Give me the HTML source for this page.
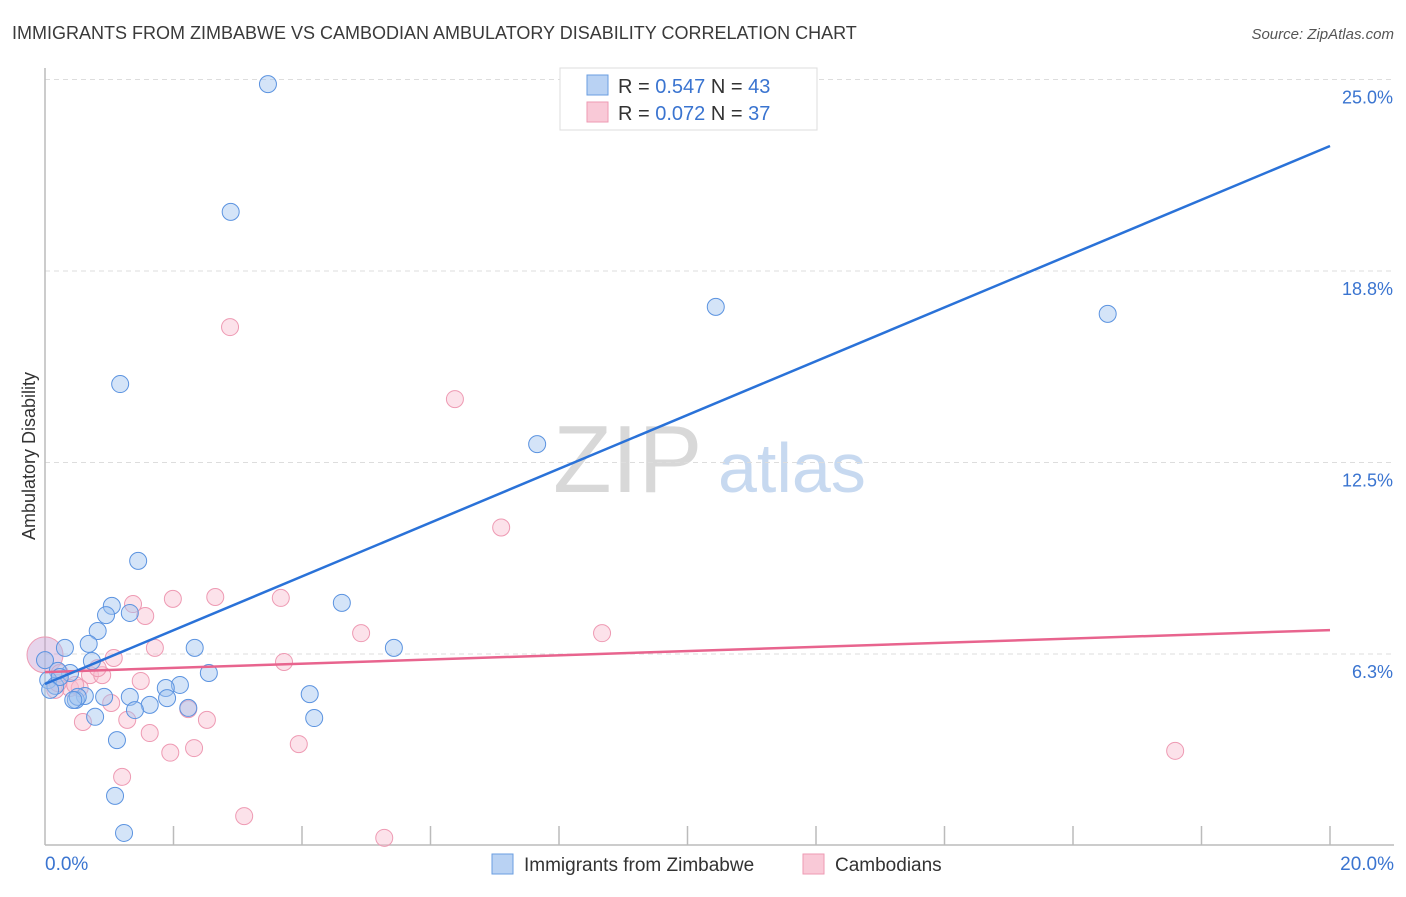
<!DOCTYPE html>
<html><head><meta charset="utf-8">
<style>
body{margin:0;background:#fff;width:1406px;height:892px;overflow:hidden;font-family:"Liberation Sans",sans-serif;}
svg text{font-family:"Liberation Sans",sans-serif;}
</style></head>
<body>
<svg id="chart" width="1406" height="892" xmlns="http://www.w3.org/2000/svg">
<text x="12" y="39" font-size="18" fill="#3a3a3a">IMMIGRANTS FROM ZIMBABWE VS CAMBODIAN AMBULATORY DISABILITY CORRELATION CHART</text>
<text x="1394" y="39" font-size="15" fill="#555" font-style="italic" text-anchor="end">Source: ZipAtlas.com</text>
<g>
<text x="553" y="492" font-size="96" fill="#d8d8d8" font-family="Liberation Serif,serif">ZIP</text>
<text x="718" y="492" font-size="70" fill="#c7d9f0">atlas</text>
</g>
<g id="grid"></g>
<g id="axes"></g>
<g id="pts"></g>
<g id="trend"></g>
<text x="35" y="456" font-size="18" fill="#333" text-anchor="middle" transform="rotate(-90 35 456)">Ambulatory Disability</text>
<g>
<rect x="560" y="68" width="257" height="62" fill="#fff" stroke="#ddd"/>
<rect x="587" y="75" width="21" height="20" fill="#b9d2f3" stroke="#6a9ee0"/>
<rect x="587" y="102" width="21" height="20" fill="#f9c9d7" stroke="#ee9ab3"/>
<text x="618" y="93" font-size="20" fill="#333">R = <tspan fill="#3a74d0">0.547</tspan>   N = <tspan fill="#3a74d0">43</tspan></text>
<text x="618" y="120" font-size="20" fill="#333">R = <tspan fill="#3a74d0">0.072</tspan>   N = <tspan fill="#3a74d0">37</tspan></text>
</g>
<g>
<rect x="492" y="854" width="21" height="20" fill="#b9d2f3" stroke="#6a9ee0"/>
<text x="524" y="871" font-size="19" fill="#333">Immigrants from Zimbabwe</text>
<rect x="803" y="854" width="21" height="20" fill="#f9c9d7" stroke="#ee9ab3"/>
<text x="835" y="871" font-size="19" fill="#333">Cambodians</text>
</g>
</svg>
<script>
const yTicks=[6.25,12.5,18.75,25];
const yTickLabels=["6.3%","12.5%","18.8%","25.0%"];
const xTickVals=[0,2,4,6,8,10,12,14,16,18,20];
const xEndLabels=["0.0%","20.0%"];
const blueX=[3.47,2.89,10.44,16.54,1.17,7.66,1.45,4.62,1.04,1.32,0.95,0.82,5.43,0.31,0.68,2.33,0.73,0.39,0.20,2.55,0.05,0.16,2.10,1.88,4.12,1.32,0.92,0.62,1.90,0.48,0.51,1.63,1.40,2.23,0.78,4.19,1.12,1.09,1.23,0.23,0.08,0.44,0.0];
const blueY=[24.85,20.68,17.58,17.35,15.06,13.10,9.29,7.92,7.82,7.59,7.52,7.00,6.45,6.45,6.58,6.45,6.02,5.63,5.70,5.63,5.40,5.21,5.24,5.14,4.94,4.85,4.85,4.88,4.81,4.75,4.85,4.59,4.42,4.49,4.20,4.16,3.44,1.62,0.41,5.50,5.08,4.75,6.05];
const pinkX=[0.0,2.88,6.38,7.10,1.99,2.65,3.67,1.37,1.56,4.92,8.67,1.71,1.07,3.72,0.70,0.89,0.82,0.23,0.39,1.49,0.16,0.54,1.03,2.23,1.28,0.59,2.52,1.63,1.95,2.32,3.95,1.20,3.10,5.28,17.59,0.20,0.47];
const pinkY=[6.22,16.92,14.57,10.38,8.05,8.11,8.08,7.88,7.49,6.93,6.93,6.45,6.12,5.99,5.56,5.56,5.79,5.63,5.14,5.37,5.08,5.14,4.65,4.45,4.10,4.03,4.10,3.67,3.03,3.18,3.31,2.24,0.96,0.25,3.09,5.30,5.24];
const blueTrend=[5.27,22.83];
const pinkTrend=[5.66,7.03];
const trendX=[0,20];

const NS="http://www.w3.org/2000/svg";
const X0=45,X1=1330,Y0=845.5,PPY=30.64;
function sx(v){return X0+(X1-X0)*v/20;}
function sy(v){return Y0-v*PPY;}
function mk(tag,attrs,parent){const e=document.createElementNS(NS,tag);for(const k in attrs)e.setAttribute(k,attrs[k]);parent.appendChild(e);return e;}
const grid=document.getElementById('grid'),axes=document.getElementById('axes'),pts=document.getElementById('pts'),trend=document.getElementById('trend');
yTicks.forEach((v,i)=>{
  const l=mk('line',{x1:X0,x2:1394,y1:sy(v),y2:sy(v),stroke:'#ddd','stroke-dasharray':'5,4'},grid);
  
  
  const t=mk('text',{x:1393,y:sy(v)+24,'font-size':18,fill:'#3a74d0','text-anchor':'end'},axes);
  t.textContent=yTickLabels[i];
  
  
});
const ax=mk('line',{x1:X0,x2:X0,y1:68,y2:845,stroke:'#bbb','stroke-width':1.5},axes);


const bx=mk('line',{x1:X0,x2:1394,y1:845,y2:845,stroke:'#bbb','stroke-width':1.5},axes);


xTickVals.forEach(v=>{
  if(v===0)return;
  const t=mk('line',{x1:sx(v),x2:sx(v),y1:826,y2:845,stroke:'#bbb','stroke-width':1.5},axes);
  
  
});
[[0,'start',45],[20,'end',1394]].forEach((a,i)=>{
  const t=mk('text',{x:a[2],y:870,'font-size':19,fill:'#3a74d0','text-anchor':a[1]},axes);
  t.textContent=xEndLabels[i];
  
  
});
pinkX.forEach((v,i)=>{
  const c=mk('circle',{cx:sx(v),cy:sy(pinkY[i]),r:i===0?18:8.5,fill:i===0?'rgba(200,160,210,0.45)':'rgba(249,190,208,0.45)',stroke:'#ee9ab3','stroke-width':1},pts);
  
  
});
blueX.forEach((v,i)=>{
  const c=mk('circle',{cx:sx(v),cy:sy(blueY[i]),r:8.5,fill:'rgba(160,195,240,0.45)',stroke:'#5b93e0','stroke-width':1},pts);
  
  
});
const tl1=mk('line',{x1:sx(trendX[0]),y1:sy(pinkTrend[0]),x2:sx(trendX[1]),y2:sy(pinkTrend[1]),stroke:'#e8648e','stroke-width':2.5},trend);


const tl2=mk('line',{x1:sx(trendX[0]),y1:sy(blueTrend[0]),x2:sx(trendX[1]),y2:sy(blueTrend[1]),stroke:'#2a72d8','stroke-width':2.5},trend);


</script>
</body></html>
